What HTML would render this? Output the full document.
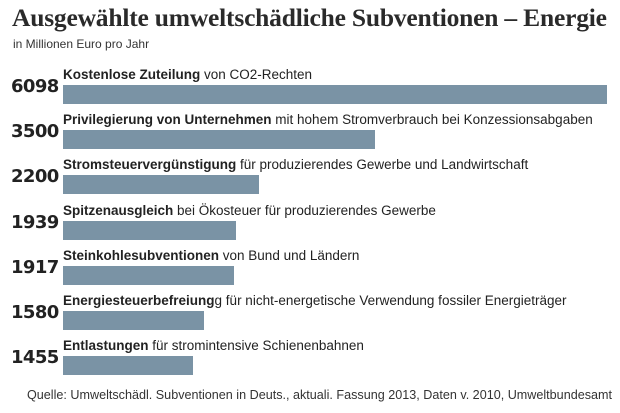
<!DOCTYPE html>
<html><head><meta charset="utf-8"><style>
body{margin:0;width:620px;height:413px;background:#fff;overflow:hidden;font-family:"Liberation Sans","DejaVu Sans",sans-serif;color:#222}
#c{position:relative;width:620px;height:413px;overflow:hidden}
.t{position:absolute;left:12px;top:3px;font-family:"Liberation Serif",serif;font-weight:bold;font-size:25.5px;color:#2a2a2a;white-space:nowrap;letter-spacing:-0.2px}
.s{position:absolute;left:13px;top:37px;font-size:12px;color:#333;white-space:nowrap}
.v{position:absolute;left:11px;font-family:"DejaVu Sans",sans-serif;font-weight:bold;font-size:18px;color:#222;letter-spacing:-0.6px}
.l{position:absolute;left:63px;font-size:13.5px;white-space:nowrap}
.b{position:absolute;left:63px;height:19px;background:#7a93a5}
.q{position:absolute;left:27px;top:387px;font-size:13px;white-space:nowrap;color:#333;transform-origin:0 0}
</style></head><body>
<div id="c">
<div class="t">Ausgewählte umweltschädliche Subventionen – Energie</div>
<div class="s">in Millionen Euro pro Jahr</div>
<div class="q" id="src">Quelle: Umweltschädl. Subventionen in Deuts., aktuali. Fassung 2013, Daten v. 2010, Umweltbundesamt</div>
</div>
<script>
const values=[6098,3500,2200,1939,1917,1580,1455];
const boldLabels=["Kostenlose Zuteilung","Privilegierung von Unternehmen","Stromsteuervergünstigung","Spitzenausgleich","Steinkohlesubventionen","Energiesteuerbefreiung","Entlastungen"];
const restLabels=[" von CO2-Rechten"," mit hohem Stromverbrauch bei Konzessionsabgaben"," für produzierendes Gewerbe und Landwirtschaft"," bei Ökosteuer für produzierendes Gewerbe"," von Bund und Ländern","g für nicht-energetische Verwendung fossiler Energieträger"," für stromintensive Schienenbahnen"];
const c=document.getElementById('c');
const maxV=6098, W=544;
const x=v=>v/maxV*W;
values.forEach((v,i)=>{
 const top=85+i*45.2;
 const b=document.createElement('div');b.className='b';
 
 
 b.style.top=top+'px';b.style.width=x(v)+'px';c.appendChild(b);
 const n=document.createElement('div');n.className='v';
 
 
 n.style.top=(top-9)+'px';n.textContent=v;c.appendChild(n);
 const l=document.createElement('div');l.className='l';
 
 
 l.style.top=(top-18)+'px';
 const s=document.createElement('b');s.textContent=boldLabels[i];l.appendChild(s);
 l.appendChild(document.createTextNode(restLabels[i]));c.appendChild(l);
});
const src=document.getElementById('src');
const w=src.getBoundingClientRect().width;
if(w>585) src.style.transform='scaleX('+(585/w)+')';
</script>
</body></html>
